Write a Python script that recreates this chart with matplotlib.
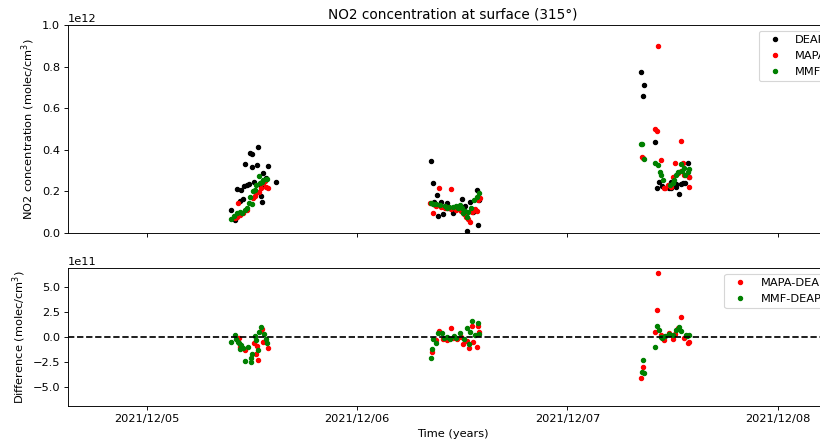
import pandas as pd
import matplotlib.pyplot as plt
import matplotlib.dates as mdates

# hours after 2021-12-05 00:00, concentration in 1e12 molec/cm3
deap_h = [9.6, 10.1, 10.25, 10.6, 10.75, 11.0, 11.1, 11.25, 11.4, 11.6, 11.75, 11.95, 12.05, 12.2, 12.55, 12.7,
          13.0, 13.05, 13.15, 13.3, 13.65, 13.85, 14.7,
          32.44, 32.63, 32.78, 33.09, 33.27, 33.3, 33.54, 33.77, 34.0, 34.23, 34.5, 34.98, 35.17, 35.5, 36.0, 36.09,
          36.3, 36.5, 36.88, 37.2, 37.65, 37.83, 37.94,
          56.44, 56.58, 56.74, 58.03, 58.18, 58.41, 58.8, 59.63, 59.82, 59.82, 59.94, 60.39, 60.39, 60.77, 60.96,
          61.14, 61.4, 61.72, 61.91]
deap_v = [0.112, 0.063, 0.21, 0.154, 0.208, 0.162, 0.228, 0.33, 0.231, 0.236, 0.386, 0.38, 0.317, 0.247, 0.325, 0.415,
          0.226, 0.178, 0.15, 0.29, 0.263, 0.32, 0.245,
          0.348, 0.239, 0.15, 0.183, 0.083, 0.135, 0.148, 0.09, 0.13, 0.143, 0.12, 0.095, 0.114, 0.125, 0.162, 0.11,
          0.13, 0.01, 0.15, 0.1, 0.207, 0.038, 0.159,
          0.773, 0.66, 0.712, 0.439, 0.218, 0.245, 0.225, 0.215, 0.215, 0.247, 0.231, 0.223, 0.236, 0.188, 0.236,
          0.239, 0.24, 0.335, 0.271]

mapa_h = [10.05, 10.25, 10.35, 10.6, 11.0, 11.4, 12.1, 12.3, 12.5, 12.8, 13.05, 13.25, 13.45, 13.65, 13.85,
          32.32, 32.63, 32.9, 33.0, 33.38, 33.6, 34.0, 34.2, 34.7, 34.72, 35.0, 35.3, 35.8, 36.2, 36.4, 36.69, 36.88,
          37.08, 37.3, 37.5, 37.65, 37.83, 38.0,
          56.52, 56.58, 58.03, 58.23, 58.37, 58.64, 58.98, 59.1, 59.5, 59.82, 60.0, 60.31, 60.6, 60.96, 61.0, 61.15,
          61.34, 61.6, 61.85, 61.91]
mapa_v = [0.071, 0.078, 0.143, 0.087, 0.095, 0.11, 0.167, 0.178, 0.19, 0.199, 0.215, 0.239, 0.25, 0.223, 0.215,
          0.143, 0.098, 0.135, 0.128, 0.218, 0.125, 0.118, 0.12, 0.21, 0.115, 0.12, 0.11, 0.105, 0.09, 0.075, 0.066,
          0.054, 0.1, 0.11, 0.115, 0.106, 0.159, 0.17,
          0.367, 0.36, 0.499, 0.492, 0.899, 0.352, 0.214, 0.215, 0.23, 0.223, 0.27, 0.335, 0.29, 0.441, 0.3, 0.335,
          0.279, 0.28, 0.271, 0.223]

mmf_h = [9.6, 10.0, 10.25, 10.6, 10.9, 11.15, 11.4, 11.6, 11.75, 12.0, 12.1, 12.3, 12.5, 12.8, 12.9, 13.1, 13.3,
         13.55, 13.75,
         32.4, 32.7, 33.0, 33.5, 34.0, 34.23, 34.5, 34.98, 35.3, 35.5, 35.7, 36.0, 36.1, 36.3, 36.5, 36.7, 37.0,
         37.3, 37.65, 37.94,
         56.44, 56.55, 56.78, 58.03, 58.3, 58.6, 58.68, 58.87, 59.7, 60.0, 60.2, 60.39, 60.58, 60.96, 61.1, 61.34,
         61.45, 61.72, 61.9]
mmf_v = [0.067, 0.08, 0.095, 0.102, 0.098, 0.11, 0.12, 0.143, 0.171, 0.14, 0.2, 0.207, 0.231, 0.274, 0.24, 0.247,
         0.255, 0.26, 0.258,
         0.143, 0.14, 0.138, 0.135, 0.13, 0.119, 0.125, 0.124, 0.13, 0.12, 0.135, 0.12, 0.095, 0.105, 0.078, 0.1,
         0.12, 0.159, 0.175, 0.19,
         0.426, 0.428, 0.354, 0.338, 0.327, 0.292, 0.279, 0.255, 0.23, 0.24, 0.255, 0.279, 0.295, 0.332, 0.3, 0.311,
         0.28, 0.295, 0.31]

# differences against DEAP, in 1e11 molec/cm3
dmapa_h = [10.5, 10.6, 11.17, 12.2, 12.5, 12.55, 12.69, 13.0, 13.1, 13.26, 13.83,
           32.59, 33.0, 33.38, 33.8, 34.2, 34.68, 34.9, 35.4, 35.9, 36.05, 36.5, 36.8, 37.08, 37.26, 37.65, 37.76, 37.9,
           56.44, 56.58, 58.03, 58.23, 58.37, 58.64, 59.06, 59.63, 60.0, 60.31, 60.58, 60.96, 61.34, 61.72, 61.91]
dmapa_v = [-0.07, -1.0, -1.3, -0.6, -1.7, -0.9, -2.3, 0.6, 0.8, -0.5, -1.1,
           -1.5, -0.3, 0.6, -0.2, -0.3, 0.9, -0.1, -0.2, 0.0, -0.7, -0.4, -1.1, 1.1, -0.5, -1.0, 1.1, 0.5,
           -4.1, -3.0, 0.5, 2.7, 6.4, 0.2, -0.3, 0.4, -0.2, 0.3, 0.9, 2.0, -0.1, -0.6, -0.5]

dmmf_h = [9.58, 10.03, 10.2, 10.41, 10.5, 10.6, 10.8, 10.98, 11.25, 11.55, 11.86, 11.94, 12.05, 12.35, 12.43,
          12.69, 12.8, 13.08, 13.37, 13.57, 13.76,
          32.44, 32.59, 32.7, 33.0, 33.27, 33.66, 33.9, 34.3, 34.6, 35.0, 35.3, 35.74, 36.2, 36.5, 36.8, 36.88,
          37.15, 37.4, 37.76, 37.91,
          56.52, 56.58, 56.78, 58.03, 58.23, 58.41, 58.68, 58.83, 59.17, 59.63, 60.0, 60.39, 60.77, 61.0, 61.53,
          61.68, 61.91]
dmmf_v = [-0.5, 0.2, -0.2, -0.47, -0.6, -1.2, -0.8, -1.1, -2.4, -1.0, -2.5, -2.1, -1.7, 0.1, -0.3,
          -1.3, 0.5, 1.0, 0.3, -0.2, -0.6,
          -2.1, -1.2, -0.2, -0.6, 0.4, 0.4, -0.1, 0.0, -0.2, 0.1, -0.1, 0.4, -0.2, 0.9, -0.7, 0.5,
          1.6, 0.2, 1.4, 0.3,
          -3.5, -2.3, -3.6, -1.0, 1.1, 0.7, 0.0, -0.1, 0.1, 0.3, 0.2, 0.7, 1.0, 0.6, 0.2, 0.1, 0.2]

day0 = pd.Timestamp('2021-12-05')


def to_time(hours):
    return day0 + pd.to_timedelta(hours, unit='h')


def scaled(vals, power):
    return [v * 10 ** power for v in vals]


fig = plt.figure(figsize=(10, 5.415))
ax1 = fig.add_axes([0.0829, 0.4752, 0.9378, 0.4685])
ax2 = fig.add_axes([0.0829, 0.0856, 0.9378, 0.3108], sharex=ax1)

mk = dict(marker='.', linestyle='none', markersize=7.5)
ax1.plot(to_time(deap_h), scaled(deap_v, 12), color='black', label='DEAP', **mk)
ax1.plot(to_time(mapa_h), scaled(mapa_v, 12), color='red', label='MAPA', **mk)
ax1.plot(to_time(mmf_h), scaled(mmf_v, 12), color='green', label='MMF', **mk)
ax1.set_ylim(0, 1e12)
ax1.set_ylabel('NO2 concentration (molec/cm$^3$)')
ax1.set_title('NO2 concentration at surface (315°)')
ax1.legend(loc='upper right')
ax1.tick_params(labelbottom=False)

ax2.plot(to_time(dmapa_h), scaled(dmapa_v, 11), color='red', label='MAPA-DEAP', **mk)
ax2.plot(to_time(dmmf_h), scaled(dmmf_v, 11), color='green', label='MMF-DEAP', **mk)
ax2.axhline(0, color='black', linestyle='--', linewidth=1.5)
ax2.set_ylim(-6.9e11, 6.9e11)
ax2.set_yticks([-5e11, -2.5e11, 0, 2.5e11, 5e11])
ax2.set_ylabel('Difference (molec/cm$^3$)')
ax2.set_xlabel('Time (years)')
ax2.legend(loc='upper right')

ax2.set_xlim(pd.Timestamp('2021-12-04 15:00'), pd.Timestamp('2021-12-08 06:45'))
ax2.xaxis.set_major_locator(mdates.DayLocator())
ax2.xaxis.set_major_formatter(mdates.DateFormatter('%Y/%m/%d'))

fig.savefig('out.png', dpi=82)
